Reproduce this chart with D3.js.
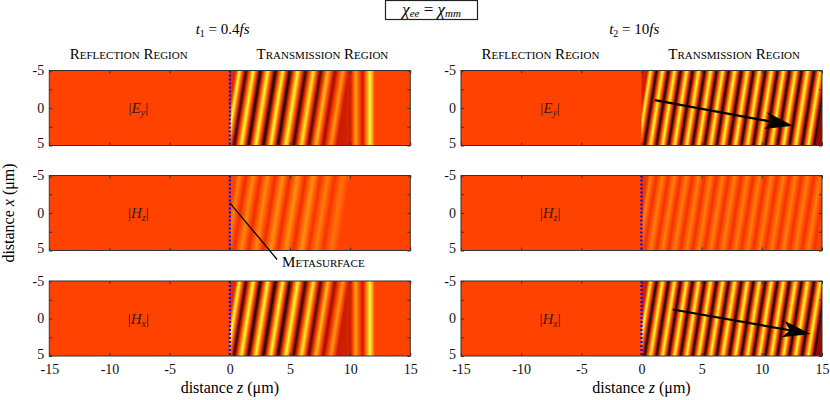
<!DOCTYPE html>
<html>
<head>
<meta charset="utf-8">
<script src="https://cdn.jsdelivr.net/npm/d3@7"></script>
<style>
  body { margin: 0; background: #fff; }
  svg, svg text { font-family: 'Liberation Serif', 'Times New Roman', 'DejaVu Serif', serif; }
</style>
</head>
<body>
<div id="wrapper"></div>
<script>
const zTicks = [-15, -10, -5, 0, 5, 10, 15]
const xTicks = [-5, -2.5, 0, 2.5, 5]
const xTickLabels = [-5, 0, 5]
const fieldNames = [['E', 'y'], ['H', 'z'], ['H', 'x']]
const times = [['1', '0.4'], ['2', '10']]
const regionNames = ['Reflection Region', 'Transmission Region']

// field level along z at x = 0 : -1 dark trough, 0 background, 1 yellow crest
const t1Strong = [[0, -0.2], [0.3, 1], [0.85, -0.9], [1.45, 1], [2.05, -1], [2.65, 1],
  [3.3, -1], [3.9, 1], [4.5, -1], [5.15, 1], [5.8, -0.9], [6.45, 0.9], [7.05, -0.8],
  [7.65, 0.65], [8.25, -0.55], [8.9, 0.45], [9.4, -0.35], [9.8, -0.3]]
const t1Tail = [[9.8, -0.3], [10.05, -0.3], [10.45, 0.5], [11.05, -0.35], [11.65, 1],
  [12.05, 0], [15, 0]]
const t1Weak = [[0, 0], [0.3, 0.3], [0.85, -0.15], [1.45, 0.35], [2.05, -0.15], [2.65, 0.35],
  [3.3, -0.15], [3.9, 0.4], [4.5, -0.15], [5.15, 0.4], [5.8, -0.15], [6.45, 0.4],
  [7.05, -0.1], [7.65, 0.3], [8.25, -0.1], [8.9, 0.25], [9.5, 0], [15, 0]]
const t2Strong = [[0, -0.3], [0.25, 1], [0.75, -1], [1.25, 1], [1.75, -1], [2.25, 1],
  [2.75, -1], [3.25, 1], [3.75, -1], [4.25, 1], [4.75, -1], [5.25, 1], [5.75, -1],
  [6.25, 1], [6.75, -1], [7.25, 1], [7.8, -1], [8.3, 1], [8.8, -1], [9.3, 1], [9.8, -1],
  [10.3, 1], [10.8, -1], [11.3, 1], [11.8, -1], [12.3, 1], [12.8, -1], [13.3, 1],
  [13.85, -1], [14.35, 1], [14.85, -1], [15, -0.6]]
const t2Weak = [[0, -0.1], [0.25, 0.3], [0.75, -0.12], [1.25, 0.3], [1.75, -0.12], [2.25, 0.3],
  [2.75, -0.12], [3.25, 0.3], [3.75, -0.12], [4.25, 0.3], [4.75, -0.12], [5.25, 0.3],
  [5.75, -0.12], [6.25, 0.3], [6.75, -0.12], [7.25, 0.3], [7.8, -0.12], [8.3, 0.3],
  [8.8, -0.12], [9.3, 0.3], [9.8, -0.12], [10.3, 0.3], [10.8, -0.12], [11.3, 0.3],
  [11.8, -0.12], [12.3, 0.3], [12.8, -0.12], [13.3, 0.3], [13.85, -0.12], [14.35, 0.3],
  [14.85, -0.12], [15, 0]]

// propagation arrows [zStart, xStart, zTip, xTip]
const arrowEy = [1.1, -1.05, 12.6, 2.35]
const arrowHx = [2.6, -1.2, 14.05, 2.05]
// metasurface pointer [zStart, xStart, zEnd, xEnd]
const metaPointer = [0, -1.35, 3.93, 6.2]

// wavefront tilt: crest shift between top and bottom edge, in µm
const tiltShift = 1.0

const serif = "'Liberation Serif', 'Times New Roman', serif"

const dimensions = {
  width: 830,
  height: 400,
  columns: [49.3, 461],
  colWidth: 361,
  rows: [70.5, 175.5, 281],
  rowHeight: 75,
}

const fieldColor = d3.scaleLinear()
  .domain([-1, -0.5, 0, 0.5, 1])
  .range(['#1e0000', '#b00a00', '#ff4200', '#ffa414', '#ffff30'])

const xScale = d3.scaleLinear().domain([-15, 15]).range([0, dimensions.colWidth])
const yScale = d3.scaleLinear().domain([-5, 5]).range([0, dimensions.rowHeight])

const panelSpecs = [
  { row: 0, col: 0, parts: [[t1Strong, 0, 9.8, true], [t1Tail, 9.8, 15, false]], dots: true },
  { row: 1, col: 0, parts: [[t1Weak, 0, 15, true]], dots: true, meta: metaPointer },
  { row: 2, col: 0, parts: [[t1Strong, 0, 9.8, true], [t1Tail, 9.8, 15, false]], dots: true },
  { row: 0, col: 1, parts: [[t2Strong, 0, 15, true]], dots: false, arrow: arrowEy },
  { row: 1, col: 1, parts: [[t2Weak, 0, 15, true]], dots: true },
  { row: 2, col: 1, parts: [[t2Strong, 0, 15, true]], dots: true, arrow: arrowHx },
]

// add a background-level stop wherever the profile changes sign
function stopsFor(profile) {
  const stops = []
  profile.forEach((p, i) => {
    stops.push(p)
    const q = profile[i + 1]
    if (q && p[1] * q[1] < 0) {
      const t = p[1] / (p[1] - q[1])
      stops.push([p[0] + t * (q[0] - p[0]), 0])
    }
  })
  return stops
}

const svg = d3.select('#wrapper')
  .append('svg')
  .attr('width', dimensions.width)
  .attr('height', dimensions.height)
  .attr('font-family', serif)

const defs = svg.append('defs')

const tiltAngle = Math.atan(-(xScale(tiltShift) - xScale(0)) / dimensions.rowHeight) * 180 / Math.PI
const yc = yScale(0)

panelSpecs.forEach((spec, i) => {
  const panel = svg.append('g')
    .attr('transform', `translate(${dimensions.columns[spec.col]},${dimensions.rows[spec.row]})`)

  const clipId = `clip-${i}`
  defs.append('clipPath').attr('id', clipId)
    .append('rect')
    .attr('width', dimensions.colWidth)
    .attr('height', dimensions.rowHeight)

  const field = panel.append('g').attr('clip-path', `url(#${clipId})`)

  field.append('rect')
    .attr('width', dimensions.colWidth)
    .attr('height', dimensions.rowHeight)
    .attr('fill', fieldColor(0))

  spec.parts.forEach(([profile, z0, z1, tilted], j) => {
    const gradId = `grad-${i}-${j}`
    const grad = defs.append('linearGradient')
      .attr('id', gradId)
      .attr('gradientUnits', 'userSpaceOnUse')
      .attr('x1', xScale(z0)).attr('x2', xScale(z1))
      .attr('y1', 0).attr('y2', 0)
    if (tilted) {
      grad.attr('gradientTransform', `translate(0,${yc}) skewX(${tiltAngle}) translate(0,${-yc})`)
    }
    grad.selectAll('stop')
      .data(stopsFor(profile))
      .join('stop')
      .attr('offset', d => (d[0] - z0) / (z1 - z0))
      .attr('stop-color', d => fieldColor(d[1]))

    field.append('rect')
      .attr('x', xScale(z0))
      .attr('width', xScale(z1) - xScale(z0))
      .attr('height', dimensions.rowHeight)
      .attr('fill', `url(#${gradId})`)
  })

  if (spec.dots) {
    field.append('line')
      .attr('x1', xScale(0)).attr('x2', xScale(0))
      .attr('y1', yScale(-5)).attr('y2', yScale(5))
      .attr('stroke', '#0000ff')
      .attr('stroke-width', 2.2)
      .attr('stroke-dasharray', '2,2')
  }

  // field label
  const [letter, sub] = fieldNames[spec.row]
  const label = panel.append('text')
    .attr('x', xScale(-7.6))
    .attr('y', yScale(0) + 5)
    .attr('text-anchor', 'middle')
    .attr('font-size', 15)
    .attr('fill', '#3a1a10')
  label.append('tspan').text('|')
  label.append('tspan').attr('font-style', 'italic').text(letter)
  label.append('tspan').attr('font-style', 'italic').attr('font-size', 10).attr('dy', 3).text(sub)
  label.append('tspan').attr('dy', -3).text('|')

  // axes with inward ticks
  const bottomAxis = d3.axisBottom(xScale).tickValues(zTicks).tickSize(-3).tickSizeOuter(0)
    .tickFormat(spec.row === 2 ? d => String(d) : () => '')
  const topAxis = d3.axisTop(xScale).tickValues(zTicks).tickSize(-3).tickSizeOuter(0).tickFormat(() => '')
  const leftAxis = d3.axisLeft(yScale).tickValues(xTicks).tickSize(-3).tickSizeOuter(0)
    .tickFormat(d => xTickLabels.includes(d) ? String(d) : '')
  const rightAxis = d3.axisRight(yScale).tickValues(xTicks).tickSize(-3).tickSizeOuter(0).tickFormat(() => '')

  const axes = [
    panel.append('g').attr('transform', `translate(0,${dimensions.rowHeight})`).call(bottomAxis),
    panel.append('g').call(topAxis),
    panel.append('g').call(leftAxis),
    panel.append('g').attr('transform', `translate(${dimensions.colWidth},0)`).call(rightAxis),
  ]
  axes.forEach(a => {
    a.select('.domain').remove()
    a.attr('font-family', serif).attr('font-size', 14)
    a.selectAll('line').attr('stroke', '#333')
    a.selectAll('text').attr('fill', '#111')
  })
  axes[0].selectAll('text').attr('y', 7.5).attr('dy', '0.75em')
  axes[2].selectAll('text')
    .attr('dx', '-0.15em')
    .attr('dy', '0.3em')
    .attr('y', d => d === 5 ? -2 : 0)

  panel.append('rect')
    .attr('width', dimensions.colWidth)
    .attr('height', dimensions.rowHeight)
    .attr('fill', 'none')
    .attr('stroke', '#333')
    .attr('stroke-width', 1)

  if (spec.arrow) {
    const [za, xa, zb, xb] = spec.arrow
    const x0 = xScale(za), y0 = yScale(xa), x1 = xScale(zb), y1 = yScale(xb)
    const len = Math.hypot(x1 - x0, y1 - y0)
    const ux = (x1 - x0) / len, uy = (y1 - y0) / len
    const headLen = 28, halfW = 8.5, notch = 7
    const bx = x1 - ux * headLen, by = y1 - uy * headLen
    const nx = x1 - ux * (headLen - notch), ny = y1 - uy * (headLen - notch)
    panel.append('line')
      .attr('x1', x0).attr('y1', y0).attr('x2', nx).attr('y2', ny)
      .attr('stroke', '#000').attr('stroke-width', 2.2)
    panel.append('path')
      .attr('d', `M${x1},${y1}L${bx - uy * halfW},${by + ux * halfW}L${nx},${ny}L${bx + uy * halfW},${by - ux * halfW}Z`)
      .attr('fill', '#000')
  }

  if (spec.meta) {
    const [za, xa, zb, xb] = spec.meta
    panel.append('line')
      .attr('x1', xScale(za)).attr('y1', yScale(xa))
      .attr('x2', xScale(zb)).attr('y2', yScale(xb))
      .attr('stroke', '#000').attr('stroke-width', 1.3)
    panel.append('text')
      .attr('x', xScale(zb) + 5)
      .attr('y', yScale(xb) + 7.5)
      .attr('font-size', 15)
      .style('font-variant', 'small-caps')
      .text('Metasurface')
  }
})

// column headings
dimensions.columns.forEach((left, c) => {
  const t = svg.append('text')
    .attr('x', left + dimensions.colWidth * 0.48)
    .attr('y', 34)
    .attr('text-anchor', 'middle')
    .attr('font-size', 15)
  t.append('tspan').attr('font-style', 'italic').text('t')
  t.append('tspan').attr('font-size', 10).attr('dy', 3).text(times[c][0])
  t.append('tspan').attr('dy', -3).text(` = ${times[c][1]}`)
  t.append('tspan').attr('font-style', 'italic').text('fs')

  regionNames.forEach((name, r) => {
    svg.append('text')
      .attr('x', left + xScale(r === 0 ? -8.4 : 7.7))
      .attr('y', 59)
      .attr('text-anchor', 'middle')
      .attr('font-size', 15)
      .style('font-variant', 'small-caps')
      .text(name)
  })

  const zl = svg.append('text')
    .attr('x', left + dimensions.colWidth / 2)
    .attr('y', 393)
    .attr('text-anchor', 'middle')
    .attr('font-size', 16)
  zl.append('tspan').text('distance ')
  zl.append('tspan').attr('font-style', 'italic').text('z')
  zl.append('tspan').text(' (μm)')
})

// shared y label
const xl = svg.append('text')
  .attr('transform', `translate(14,${dimensions.rows[1] + dimensions.rowHeight / 2}) rotate(-90)`)
  .attr('text-anchor', 'middle')
  .attr('font-size', 16)
xl.append('tspan').text('distance ')
xl.append('tspan').attr('font-style', 'italic').text('x')
xl.append('tspan').text(' (μm)')

// boxed title
svg.append('rect')
  .attr('x', 385.5).attr('y', 0.5)
  .attr('width', 92).attr('height', 19)
  .attr('fill', '#fff')
  .attr('stroke', '#222')
  .attr('stroke-width', 1.2)
const ti = svg.append('text')
  .attr('x', 431.5)
  .attr('y', 15)
  .attr('text-anchor', 'middle')
  .attr('font-size', 17)
ti.append('tspan').attr('font-style', 'italic').text('χ')
ti.append('tspan').attr('font-style', 'italic').attr('font-size', 11).attr('dy', 2).text('ee')
ti.append('tspan').attr('dy', -2).text(' = ')
ti.append('tspan').attr('font-style', 'italic').text('χ')
ti.append('tspan').attr('font-style', 'italic').attr('font-size', 11).attr('dy', 2).text('mm')
</script>
</body>
</html>
